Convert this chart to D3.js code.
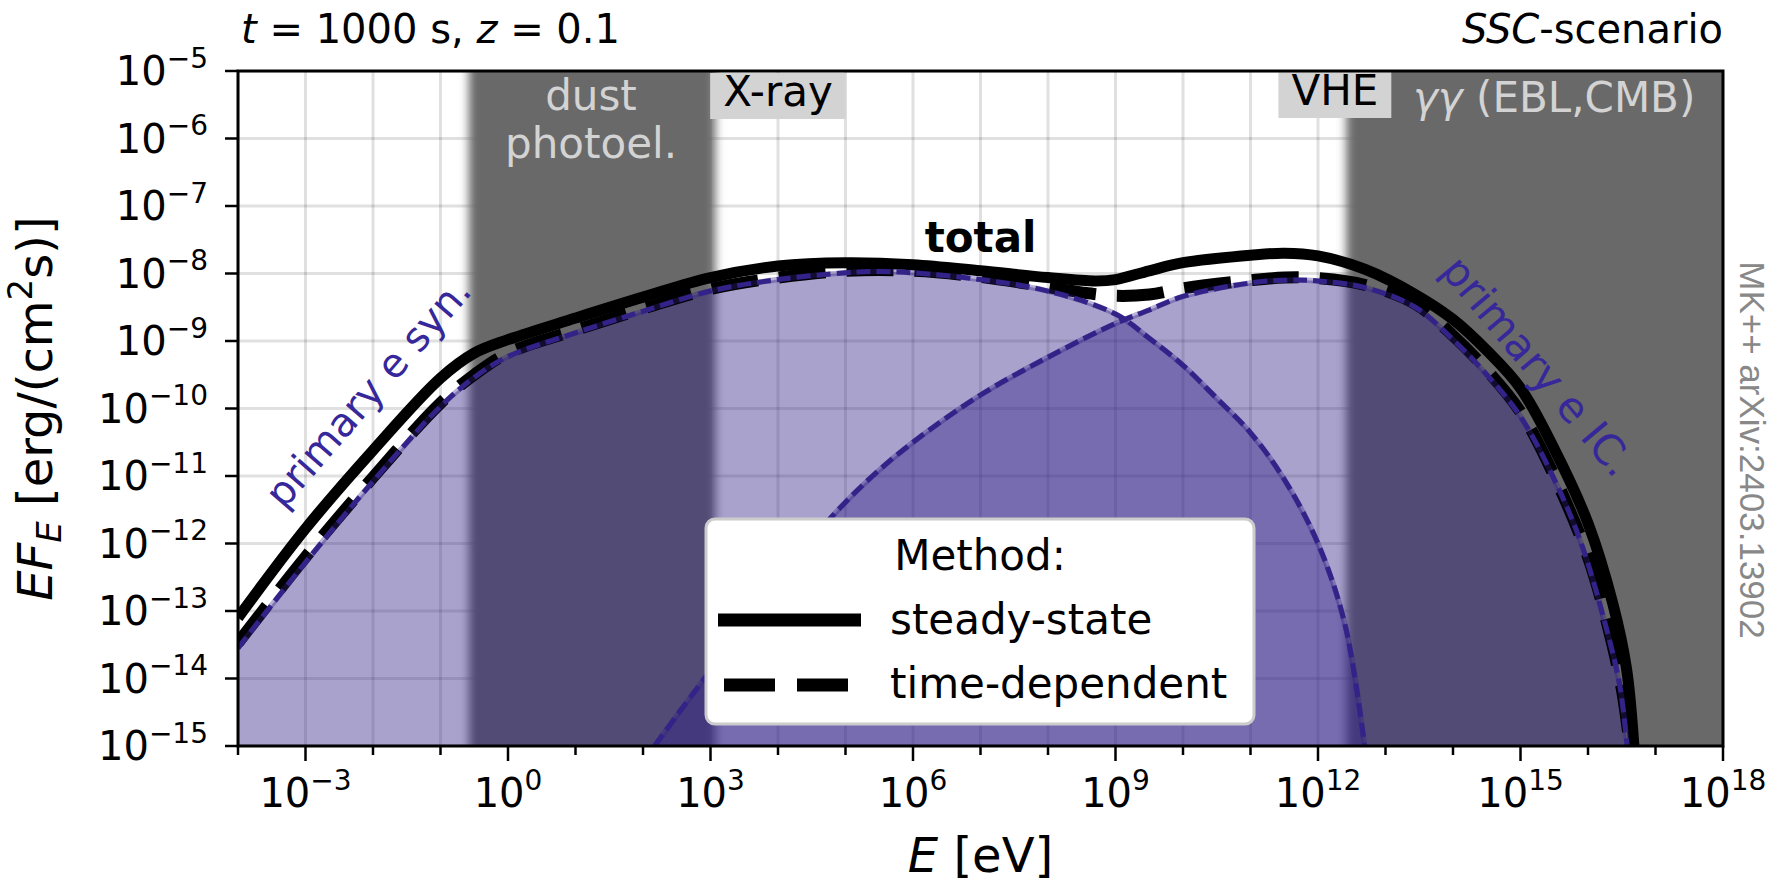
<!DOCTYPE html>
<html>
<head>
<meta charset="utf-8">
<script src="https://cdn.jsdelivr.net/npm/d3@7"></script>
<style>
  html, body { margin: 0; padding: 0; background: #fff; }
  svg { display: block; font-family: "DejaVu Sans", sans-serif; }
</style>
</head>
<body>
<svg id="chart" width="1774" height="882"></svg>
<script>
// values, as log10(E / eV) and log10(E F_E / erg cm^-2 s^-1)
const synLogE = [-4, -3, -2, -1, -0.5, 0, 1, 2, 3, 4, 5, 5.5, 6, 7, 8, 9, 9.5, 10, 10.5, 11, 11.5, 12, 12.4, 12.69];
const synLogF = [-13.55, -12.28, -11.08, -9.97, -9.54, -9.23, -8.88, -8.56, -8.26, -8.09, -7.99, -7.97, -7.99, -8.09, -8.26, -8.6, -8.96, -9.36, -9.85, -10.36, -11.05, -12.0, -13.2, -15];

const icLogE = [2.17, 2.5, 3, 3.5, 4, 4.8, 5.4, 6, 7, 8, 9, 9.5, 10, 11, 11.5, 12, 12.7, 13.44, 14, 14.5, 15, 15.5, 15.9, 16.27, 16.47, 16.58];
const icLogF = [-15, -14.55, -13.88, -13.22, -12.56, -11.6, -11.0, -10.5, -9.8, -9.24, -8.74, -8.54, -8.34, -8.14, -8.1, -8.11, -8.21, -8.5, -8.98, -9.5, -10.12, -11.05, -12.0, -13.25, -14.1, -15];

// total, steady-state (solid black)
const ssLogE = [-4, -3, -2, -1, -0.5, 0, 1, 2, 3, 4, 5, 6, 7, 8, 8.7, 9, 9.5, 10, 11, 11.5, 12, 12.7, 13.44, 14, 14.5, 15, 15.5, 16, 16.37, 16.57, 16.68];
const ssLogF = [-13.1, -11.78, -10.62, -9.55, -9.18, -8.98, -8.66, -8.35, -8.06, -7.89, -7.84, -7.87, -7.96, -8.06, -8.11, -8.09, -7.96, -7.84, -7.73, -7.7, -7.74, -7.94, -8.31, -8.68, -9.14, -9.7, -10.6, -11.7, -12.9, -13.85, -15];

// total, time-dependent (dashed black)
const tdLogE = [-4, -3, -2, -1, -0.5, 0, 1, 2, 3, 4, 5, 6, 7, 8, 8.5, 9, 9.5, 10, 11, 11.5, 12, 12.7, 13.44, 14, 14.5, 15, 15.5, 16, 16.3, 16.5, 16.62];
const tdLogF = [-13.47, -12.2, -11.02, -9.92, -9.5, -9.18, -8.84, -8.52, -8.23, -8.06, -7.96, -7.96, -8.05, -8.2, -8.28, -8.33, -8.31, -8.22, -8.1, -8.06, -8.07, -8.17, -8.45, -8.92, -9.43, -10.05, -11.0, -12.2, -13.25, -14.15, -15];

const xTickExps = d3.range(-4, 19);
const xLabelExps = [-3, 0, 3, 6, 9, 12, 15, 18];
const yTickExps = d3.range(-15, -4);

// absorption bands, log10(E / eV)
const dustBand = [-0.58, 3.07];
const ggBand = [12.42, 18.6];

const svg = d3.select("#chart");
const plot = { left: 238, right: 1723, top: 71, bottom: 746 };

const x = d3.scaleLog().domain([1e-4, 1e18]).range([plot.left, plot.right]);
const y = d3.scaleLog().domain([1e-15, 1e-5]).range([plot.bottom, plot.top]);

const toPoints = (es, fs) => es.map((e, i) => ({ E: Math.pow(10, e), F: Math.pow(10, fs[i]) }));
const syn = toPoints(synLogE, synLogF);
const ic = toPoints(icLogE, icLogF);
const ssTot = toPoints(ssLogE, ssLogF);
const tdTot = toPoints(tdLogE, tdLogF);

const curve = d3.curveCatmullRom.alpha(0.5);
const line = d3.line().x((d) => x(d.E)).y((d) => y(d.F)).curve(curve);
const area = d3.area().x((d) => x(d.E)).y0(y(1e-15)).y1((d) => y(d.F)).curve(curve);

const INDIGO = "#332288";
const defs = svg.append("defs");
defs.append("clipPath").attr("id", "clip")
  .append("rect")
  .attr("x", plot.left).attr("y", plot.top)
  .attr("width", plot.right - plot.left).attr("height", plot.bottom - plot.top);
defs.append("filter").attr("id", "soft")
  .attr("x", "-10%").attr("y", "0").attr("width", "120%").attr("height", "100%")
  .append("feGaussianBlur").attr("stdDeviation", "5 0");

const g = svg.append("g").attr("clip-path", "url(#clip)");

// grid
g.append("g").selectAll("line").data(xTickExps).enter().append("line")
  .attr("x1", (d) => x(Math.pow(10, d))).attr("x2", (d) => x(Math.pow(10, d)))
  .attr("y1", plot.top).attr("y2", plot.bottom)
  .attr("stroke", "#000").attr("stroke-opacity", 0.12).attr("stroke-width", 3);
g.append("g").selectAll("line").data(yTickExps).enter().append("line")
  .attr("y1", (d) => y(Math.pow(10, d))).attr("y2", (d) => y(Math.pow(10, d)))
  .attr("x1", plot.left).attr("x2", plot.right)
  .attr("stroke", "#000").attr("stroke-opacity", 0.12).attr("stroke-width", 3);

// bands
g.append("g").selectAll("rect").data([dustBand, ggBand]).enter().append("rect")
  .attr("x", (d) => x(Math.pow(10, d[0])))
  .attr("width", (d) => x(Math.pow(10, d[1])) - x(Math.pow(10, d[0])))
  .attr("y", plot.top).attr("height", plot.bottom - plot.top)
  .attr("fill", "#696969").attr("filter", "url(#soft)");

// band labels
const boxLabel = (text, cx, baseline) => {
  const t = svg.append("text").attr("x", cx).attr("y", baseline)
    .attr("text-anchor", "middle").attr("font-size", 42).attr("fill", "#000").text(text);
  const w = t.node().getComputedTextLength();
  svg.insert("rect", () => t.node())
    .attr("x", cx - w / 2 - 13).attr("y", baseline - 33)
    .attr("width", w + 26).attr("height", 46).attr("fill", "#d3d3d3");
};

const dust = svg.append("text").attr("text-anchor", "middle").attr("font-size", 42).attr("fill", "#d3d3d3");
dust.append("tspan").attr("x", 591).attr("y", 110).text("dust");
dust.append("tspan").attr("x", 591).attr("y", 158).text("photoel.");

const ggText = svg.append("text").attr("x", 1413).attr("y", 112).attr("font-size", 42).attr("fill", "#d3d3d3");
ggText.append("tspan").attr("font-style", "italic").text("γγ");
ggText.append("tspan").text(" (EBL,CMB)");

// fills
g.append("path").datum(syn).attr("d", area).attr("fill", INDIGO).attr("fill-opacity", 0.42);
g.append("path").datum(ic).attr("d", area).attr("fill", INDIGO).attr("fill-opacity", 0.42);

// totals
g.append("path").datum(ssTot).attr("d", line)
  .attr("fill", "none").attr("stroke", "#000").attr("stroke-width", 11);
g.append("path").datum(tdTot).attr("d", line)
  .attr("fill", "none").attr("stroke", "#000").attr("stroke-width", 12)
  .attr("stroke-dasharray", "47 21");

// components: steady-state (light solid) and time-dependent (dashed)
[syn, ic].forEach((c) => {
  g.append("path").datum(c).attr("d", line)
    .attr("fill", "none").attr("stroke", INDIGO).attr("stroke-opacity", 0.35).attr("stroke-width", 5.5);
  g.append("path").datum(c).attr("d", line)
    .attr("fill", "none").attr("stroke", INDIGO).attr("stroke-width", 5)
    .attr("stroke-dasharray", "14 6");
});

boxLabel("X-ray", x(1e4), 106);
boxLabel("VHE", x(Math.pow(10, 12.25)), 105);

// axes frame
svg.append("rect")
  .attr("x", plot.left).attr("y", plot.top)
  .attr("width", plot.right - plot.left).attr("height", plot.bottom - plot.top)
  .attr("fill", "none").attr("stroke", "#000").attr("stroke-width", 3);

svg.append("g").selectAll("line").data(xTickExps).enter().append("line")
  .attr("x1", (d) => x(Math.pow(10, d))).attr("x2", (d) => x(Math.pow(10, d)))
  .attr("y1", plot.bottom).attr("y2", (d) => plot.bottom + (d % 3 === 0 ? 15 : 9))
  .attr("stroke", "#000").attr("stroke-width", 2.5);
svg.append("g").selectAll("line").data(yTickExps).enter().append("line")
  .attr("y1", (d) => y(Math.pow(10, d))).attr("y2", (d) => y(Math.pow(10, d)))
  .attr("x1", plot.left).attr("x2", plot.left - 13)
  .attr("stroke", "#000").attr("stroke-width", 2.5);

const powLabel = (sel, exp) => {
  sel.append("tspan").text("10");
  sel.append("tspan").attr("font-size", 28).attr("dy", -17.5)
    .text(String(exp).replace("-", "\u2212"));
};

svg.append("g").selectAll("text").data(xLabelExps).enter().append("text")
  .attr("x", (d) => x(Math.pow(10, d))).attr("y", 807)
  .attr("text-anchor", "middle").attr("font-size", 40)
  .each(function (d) { powLabel(d3.select(this), d); });

svg.append("g").selectAll("text").data(yTickExps).enter().append("text")
  .attr("x", 208).attr("y", (d) => y(Math.pow(10, d)) + 14)
  .attr("text-anchor", "end").attr("font-size", 40)
  .each(function (d) { powLabel(d3.select(this), d); });

// axis labels
const xl = svg.append("text").attr("x", (plot.left + plot.right) / 2).attr("y", 872)
  .attr("text-anchor", "middle").attr("font-size", 48);
xl.append("tspan").attr("font-style", "italic").text("E");
xl.append("tspan").text(" [eV]");

const yl = svg.append("text")
  .attr("transform", `translate(52,${(plot.top + plot.bottom) / 2}) rotate(-90)`)
  .attr("text-anchor", "middle").attr("font-size", 48);
yl.append("tspan").attr("font-style", "italic").text("EF");
yl.append("tspan").attr("font-style", "italic").attr("font-size", 34).attr("dy", 9).text("E");
yl.append("tspan").attr("dy", -9).text(" [erg/(cm");
yl.append("tspan").attr("font-size", 34).attr("dy", -20).text("2");
yl.append("tspan").attr("dy", 20).text("s)]");

// titles
const tl = svg.append("text").attr("x", 241).attr("y", 43).attr("font-size", 40);
tl.append("tspan").attr("font-style", "italic").text("t");
tl.append("tspan").text(" = 1000 s, ");
tl.append("tspan").attr("font-style", "italic").text("z");
tl.append("tspan").text(" = 0.1");

const tr = svg.append("text").attr("x", plot.right).attr("y", 43)
  .attr("text-anchor", "end").attr("font-size", 40);
tr.append("tspan").attr("font-style", "italic").text("SSC");
tr.append("tspan").text("-scenario");

svg.append("text").attr("x", x(1e7)).attr("y", 252)
  .attr("text-anchor", "middle").attr("font-size", 42).attr("font-weight", "bold").text("total");

svg.append("text")
  .attr("transform", "translate(368,392) rotate(-49)")
  .attr("text-anchor", "middle").attr("dominant-baseline", "central")
  .attr("font-size", 40).attr("fill", "#36279a").text("primary e syn.");

svg.append("text")
  .attr("transform", "translate(1538,366) rotate(50)")
  .attr("text-anchor", "middle").attr("dominant-baseline", "central")
  .attr("font-size", 42).attr("fill", "#36279a").text("primary e IC.");

svg.append("text")
  .attr("transform", "translate(1752,450) rotate(90)")
  .attr("text-anchor", "middle").attr("dominant-baseline", "central")
  .attr("font-family", "Liberation Sans, Arial, sans-serif")
  .attr("font-size", 35).attr("fill", "#888").text("MK++ arXiv:2403.13902");

// legend
const leg = svg.append("g");
leg.append("rect").attr("x", 706).attr("y", 519).attr("width", 548).attr("height", 205)
  .attr("rx", 9).attr("fill", "#fff").attr("stroke", "#cccccc").attr("stroke-width", 3);
leg.append("text").attr("x", 980).attr("y", 570).attr("text-anchor", "middle")
  .attr("font-size", 42).text("Method:");
leg.append("line").attr("x1", 718).attr("x2", 861).attr("y1", 620).attr("y2", 620)
  .attr("stroke", "#000").attr("stroke-width", 13);
leg.append("line").attr("x1", 724).attr("x2", 848).attr("y1", 685).attr("y2", 685)
  .attr("stroke", "#000").attr("stroke-width", 13).attr("stroke-dasharray", "51 22");
leg.append("text").attr("x", 890).attr("y", 634).attr("font-size", 42).text("steady-state");
leg.append("text").attr("x", 890).attr("y", 698).attr("font-size", 42).text("time-dependent");
</script>
</body>
</html>
